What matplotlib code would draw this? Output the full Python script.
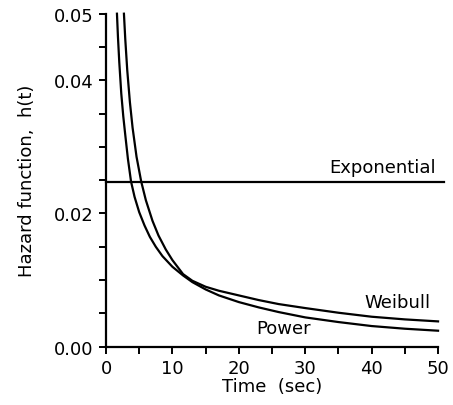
import numpy as np
import matplotlib
matplotlib.use('Agg')
import matplotlib.pyplot as plt

# values
t_power = [1.65, 1.8, 2.0, 2.3, 2.6, 2.9, 3.3, 3.77, 4.3, 5.0, 5.8, 6.6, 7.5, 8.5,
           10.0, 11.6, 13.0, 15.0, 17.0, 20.0, 23.0, 26.0, 30.0, 35.0, 40.0, 45.0, 50.0]
h_power = [0.0500, 0.0465, 0.0427, 0.0380, 0.0346, 0.0318, 0.0282, 0.0248, 0.0225, 0.0202,
           0.0182, 0.0165, 0.0150, 0.0136, 0.0120, 0.0107, 0.0097, 0.0086, 0.0077,
           0.0067, 0.0059, 0.0052, 0.0044, 0.0037, 0.0031, 0.0027, 0.0024]

t_weibull = [2.70, 2.9, 3.2, 3.6, 4.0, 4.6, 5.3, 6.0, 7.0, 7.9, 9.0, 10.0, 11.6, 13.0,
             15.0, 17.0, 20.0, 23.0, 26.0, 30.0, 35.0, 40.0, 45.0, 50.0]
h_weibull = [0.0500, 0.0462, 0.0415, 0.0367, 0.0329, 0.0285, 0.0248, 0.0220, 0.0189,
             0.0167, 0.0146, 0.0130, 0.0109, 0.0099, 0.0090, 0.0084, 0.0077, 0.0070,
             0.0064, 0.0058, 0.0051, 0.0045, 0.0041, 0.0038]

t_expo = [0.0, 50.9]
h_expo = [0.0248, 0.0248]

fig = plt.figure(figsize=(4.53, 4.06), dpi=100)
ax = fig.add_axes([0.234, 0.1436, 0.733, 0.8202])

lw = 1.6
ax.plot(t_power, h_power, 'k-', lw=lw, clip_on=False)
ax.plot(t_weibull, h_weibull, 'k-', lw=lw, clip_on=False)
ax.plot(t_expo, h_expo, 'k-', lw=lw, clip_on=False)

ax.text(49.6, 0.0256, 'Exponential', ha='right', va='bottom', fontsize=13)
ax.text(48.8, 0.0054, 'Weibull', ha='right', va='bottom', fontsize=13)
ax.text(26.7, 0.0015, 'Power', ha='center', va='bottom', fontsize=13)

ax.set_xlim(0, 50)
ax.set_ylim(0, 0.05)

xt = np.arange(0, 51, 5)
ax.set_xticks(xt)
ax.set_xticklabels([str(int(v)) if v % 10 == 0 else '' for v in xt])
yt = np.round(np.arange(0, 0.0501, 0.005), 3)
ax.set_yticks(yt)
ax.set_yticklabels(['%.2f' % v if v in (0.0, 0.02, 0.04, 0.05) else '' for v in yt])

for s in ['top', 'right']:
    ax.spines[s].set_visible(False)
for s in ['left', 'bottom']:
    ax.spines[s].set_linewidth(1.6)
ax.tick_params(direction='out', length=5, width=1.4, labelsize=13, pad=4)

ax.set_xlabel('Time  (sec)', fontsize=13, labelpad=0)
ax.set_ylabel('Hazard function,  h(t)', fontsize=13, labelpad=13)

fig.savefig('out.png', dpi=100)
